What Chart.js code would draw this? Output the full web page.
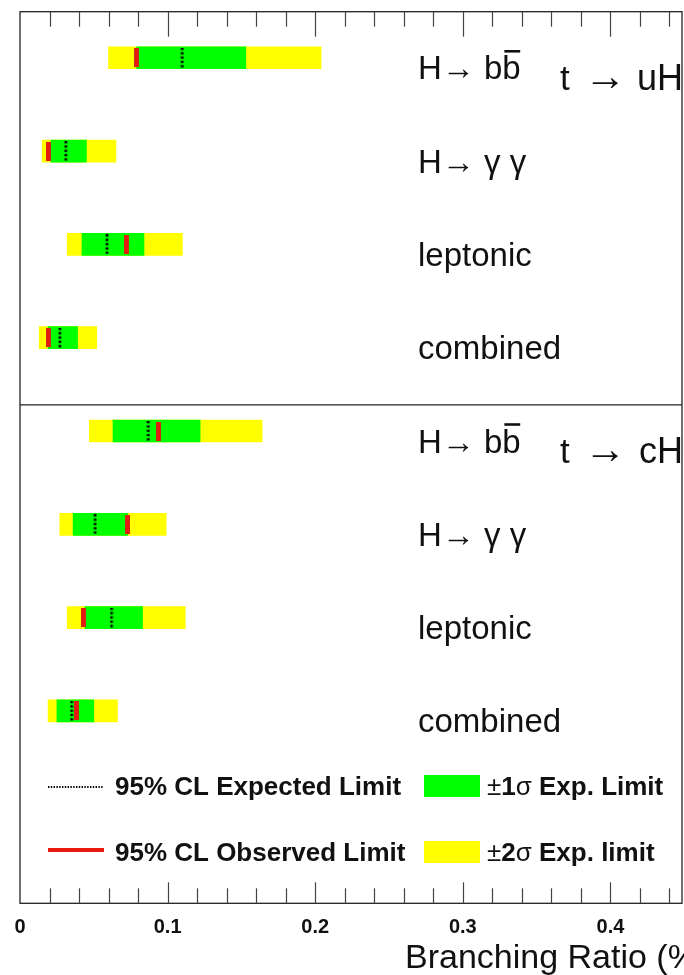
<!DOCTYPE html>
<html>
<head>
<meta charset="utf-8">
<script src="https://cdn.jsdelivr.net/npm/chart.js@4.4.1/dist/chart.umd.min.js"></script>
<style>
html,body{margin:0;padding:0;background:#fff;}
#wrap{width:684px;height:975px;}
</style>
</head>
<body>
<div id="wrap"><canvas id="c" width="684" height="975"></canvas></div>
<script>
// ---------- data (branching ratio, %) ----------
const categories   = ['H→ bb\u0304', 'H→ γ γ', 'leptonic', 'combined', 'H→ bb\u0304', 'H→ γ γ', 'leptonic', 'combined'];
const rowPositions = [0, 1, 2, 3, 4, 5, 6, 7];
const twoSigmaLow  = [0.060, 0.015, 0.032, 0.013, 0.047, 0.027, 0.032, 0.019];
const twoSigmaHigh = [0.204, 0.065, 0.110, 0.052, 0.164, 0.099, 0.112, 0.066];
const oneSigmaLow  = [0.079, 0.021, 0.042, 0.019, 0.063, 0.036, 0.044, 0.025];
const oneSigmaHigh = [0.153, 0.045, 0.084, 0.039, 0.122, 0.073, 0.083, 0.050];
const expectedLimit = [0.110, 0.031, 0.059, 0.027, 0.087, 0.051, 0.062, 0.035];
const observedLimit = [0.079, 0.019, 0.072, 0.019, 0.094, 0.073, 0.043, 0.038];
const groupLabels = [['t', '→', 'uH'], ['t', '→', 'cH']];
const groupRows = [0, 4];
const dividerPosition = 3.72;
const xMin = 0, xMax = 0.4485, xMajorStep = 0.1, xMinorStep = 0.02;
const axisTitle = 'Branching Ratio (%)';
const legendLineLabels = ['95% CL Expected Limit', '95% CL Observed Limit'];
const legendBoxLabels = [[['±', false], ['1', true], ['σ', false], [' Exp. Limit', true]],
                         [['±', false], ['2', true], ['σ', false], [' Exp. limit', true]]];

const FONT = '"Liberation Sans", Arial, Helvetica, sans-serif';
Chart.defaults.font.family = FONT;

const GREEN = '#00ff00', YELLOW = '#ffff00', RED = '#e8190f';

// marker images
function makeExpectedMarker() {
  const cv = document.createElement('canvas');
  cv.width = 4; cv.height = 20;
  const g = cv.getContext('2d');
  g.fillStyle = '#000';
  for (let k = 0; k < 5; k++) g.fillRect(0.6, k * 4.3, 2.7, 2.3);
  return cv;
}
function makeObservedMarker() {
  const cv = document.createElement('canvas');
  cv.width = 5; cv.height = 19;
  const g = cv.getContext('2d');
  g.fillStyle = '#c8301c';
  g.fillRect(0, 0, 5, 19);
  g.fillStyle = RED;
  g.fillRect(0.8, 0, 3.4, 19);
  return cv;
}

function line(ctx, x1, y1, x2, y2) {
  ctx.beginPath(); ctx.moveTo(x1, y1); ctx.lineTo(x2, y2); ctx.stroke();
}

function drawRowLabel(ctx, label, x, yb) {
  if (label.indexOf('\u0304') >= 0) {
    const base = label.replace('\u0304', '');
    ctx.fillText(base, x, yb);
    const wAll = ctx.measureText(base).width;
    const wB = ctx.measureText('b').width;
    ctx.save();
    ctx.lineWidth = 2.6;
    ctx.strokeStyle = '#111';
    line(ctx, x + wAll - wB + 2, yb - 28, x + wAll - 0.5, yb - 28);
    ctx.restore();
  } else {
    ctx.fillText(label, x, yb);
  }
}

const decorPlugin = {
  id: 'decor',
  beforeDraw(c) {
    const ctx = c.ctx;
    ctx.save(); ctx.fillStyle = '#fff'; ctx.fillRect(0, 0, c.width, c.height); ctx.restore();
  },
  afterDraw(c) {
    const ctx = c.ctx, a = c.chartArea, x = c.scales.x, y = c.scales.y;
    ctx.save();
    // frame
    ctx.strokeStyle = '#222'; ctx.lineWidth = 1.3;
    ctx.strokeRect(a.left, a.top, a.right - a.left, a.bottom - a.top);
    const dy = y.getPixelForValue(dividerPosition);
    line(ctx, a.left, dy, a.right, dy);
    // inward ticks
    ctx.strokeStyle = '#444'; ctx.lineWidth = 1.2;
    for (let k = 1; ; k++) {
      const v = xMin + k * xMinorStep;
      if (v > xMax + 1e-9) break;
      const px = Math.round(x.getPixelForValue(v)) + 0.5;
      const r = v / xMajorStep;
      const major = Math.abs(r - Math.round(r)) < 1e-6;
      line(ctx, px, a.top, px, a.top + (major ? 25 : 15));
      line(ctx, px, a.bottom, px, a.bottom - (major ? 21 : 15));
    }
    // row labels
    ctx.fillStyle = '#111';
    ctx.textBaseline = 'alphabetic';
    ctx.textAlign = 'left';
    ctx.font = '33px ' + FONT;
    categories.forEach((lab, i) => {
      const py = y.getPixelForValue(rowPositions[i]);
      drawRowLabel(ctx, lab, 418, py + 21.5);
    });
    // group labels
    groupLabels.forEach((parts, j) => {
      const py = y.getPixelForValue(groupRows[j]) + 32;
      ctx.textAlign = 'left';
      ctx.font = '35px ' + FONT;
      ctx.fillText(parts[0], 560, py);
      ctx.font = '42px ' + FONT;
      ctx.fillText(parts[1], 584, py);
      ctx.textAlign = 'right';
      ctx.font = '36px ' + FONT;
      ctx.fillText(parts[2], 683, py);
    });
    // axis title
    ctx.textAlign = 'left';
    ctx.font = '34px ' + FONT;
    ctx.fillText(axisTitle, 405, 968);
    // legend
    const rowsY = [788, 854];
    // expected (dotted)
    ctx.strokeStyle = '#000'; ctx.lineWidth = 2.2;
    ctx.setLineDash([1.4, 1.4]);
    line(ctx, 48, rowsY[0] - 1, 103, rowsY[0] - 1);
    ctx.setLineDash([]);
    // observed (red)
    ctx.strokeStyle = RED; ctx.lineWidth = 4;
    line(ctx, 48, rowsY[1] - 4, 104, rowsY[1] - 4);
    ctx.fillStyle = '#111';
    ctx.textBaseline = 'middle';
    ctx.font = 'bold 26px ' + FONT;
    legendLineLabels.forEach((t, i) => ctx.fillText(t, 115, rowsY[i]));
    // boxes
    ctx.fillStyle = GREEN; ctx.fillRect(424, rowsY[0] - 13, 56, 22);
    ctx.fillStyle = YELLOW; ctx.fillRect(424, rowsY[1] - 13, 56, 22);
    ctx.fillStyle = '#111';
    legendBoxLabels.forEach((runs, i) => {
      let xx = 487;
      runs.forEach(([txt, bold]) => {
        ctx.font = (bold ? 'bold ' : '') + '26px ' + FONT;
        ctx.fillText(txt, xx, rowsY[i]);
        xx += ctx.measureText(txt).width;
      });
    });
    ctx.restore();
  }
};

const ctx = document.getElementById('c').getContext('2d');
new Chart(ctx, {
  type: 'bar',
  data: {
    datasets: [
      {
        type: 'scatter', label: 'Expected',
        data: rowPositions.map((r, i) => ({ x: expectedLimit[i], y: r })),
        pointStyle: makeExpectedMarker(), pointRadius: 10, order: 0
      },
      {
        type: 'scatter', label: 'Observed',
        data: rowPositions.map((r, i) => ({ x: observedLimit[i], y: r })),
        pointStyle: makeObservedMarker(), pointRadius: 10, order: 1
      },
      {
        label: '±1σ',
        data: rowPositions.map((r, i) => ({ x: [oneSigmaLow[i], oneSigmaHigh[i]], y: r })),
        backgroundColor: GREEN, borderWidth: 0, barThickness: 22, grouped: false, order: 2
      },
      {
        label: '±2σ',
        data: rowPositions.map((r, i) => ({ x: [twoSigmaLow[i], twoSigmaHigh[i]], y: r })),
        backgroundColor: YELLOW, borderWidth: 0, barThickness: 22, grouped: false, order: 3
      }
    ]
  },
  options: {
    indexAxis: 'y',
    responsive: false,
    animation: false,
    layout: { autoPadding: false, padding: { left: 20, right: 2, top: 11.7, bottom: 0 } },
    plugins: { legend: { display: false }, tooltip: { enabled: false } },
    scales: {
      x: {
        type: 'linear', position: 'bottom', min: xMin, max: xMax,
        grid: { display: false, drawTicks: false },
        border: { display: false },
        ticks: {
          stepSize: xMajorStep, includeBounds: false, padding: 12, color: '#111',
          maxRotation: 0, autoSkip: false,
          font: { family: FONT, size: 20, weight: 'bold' }
        },
        afterFit(s) { s.height = 71.7; s.paddingLeft = 0; s.paddingRight = 0; }
      },
      y: {
        type: 'linear', reverse: true, min: -0.494, max: 9.062, offset: false, display: false
      }
    }
  },
  plugins: [decorPlugin]
});
</script>
</body>
</html>
